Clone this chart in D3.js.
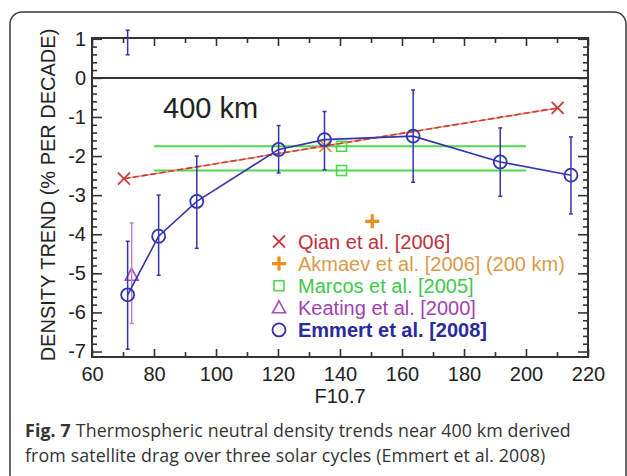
<!DOCTYPE html>
<html>
<head>
<meta charset="utf-8">
<script src="https://cdn.jsdelivr.net/npm/d3@7"></script>
<style>
  body { margin: 0; background: #fff; }
  svg text { font-family: "Liberation Sans", Arial, sans-serif; }
</style>
</head>
<body>
<div id="chart"></div>
<script>
// Emmert et al. [2008] - density trend vs F10.7 with error bars
const emmertF = [71.5, 81.5, 93.8, 120.2, 135, 163.6, 191.7, 214.5];
const emmertTrend = [-5.55, -4.05, -3.16, -1.83, -1.58, -1.49, -2.15, -2.49];
const emmertHigh = [-4.18, -3.0, -2.0, -1.22, -0.86, -0.31, -1.28, -1.51];
const emmertLow = [-6.94, -5.05, -4.36, -2.43, -2.35, -2.67, -3.03, -3.48];

// stray error bar above the first point (clipped at the top of the box)
const strayF = [71.5];
const strayHigh = [1.22];
const strayLow = [0.59];

// Qian et al. [2006]
const qianF = [70.3, 135.3, 210.2];
const qianTrend = [-2.58, -1.74, -0.77];

// Akmaev et al. [2006] (200 km)
const akmaevF = [150.4];
const akmaevTrend = [-3.67];

// Marcos et al. [2005]: squares plus the F10.7 range they cover
const marcosF = [140.5, 140.5];
const marcosTrend = [-1.75, -2.37];
const marcosRange = [80, 200];

// Keating et al. [2000]
const keatingF = [72.8];
const keatingTrend = [-5.05];
const keatingHigh = [-3.71];
const keatingLow = [-6.28];

// axis ticks
const xTicks = [60, 80, 100, 120, 140, 160, 180, 200, 220];
const xMinor = [70, 90, 110, 130, 150, 170, 190, 210];
const yTicks = [-7, -6, -5, -4, -3, -2, -1, 0, 1];

const legendLabels = ["Qian et al. [2006]", "Akmaev et al. [2006] (200 km)", "Marcos et al. [2005]", "Keating et al. [2000]", "Emmert et al. [2008]"];

const colors = {
  qian: "#cc3a3f", qianText: "#c2303a",
  akmaev: "#ee8c1c", akmaevText: "#dc9a4c",
  marcos: "#4fd84f", marcosText: "#3fc84c",
  keating: "#b04cbc", keatingText: "#a23faf",
  emmert: "#3434ac", emmertText: "#2a2aa0"
};

const W = 627, H = 476;
const box = { left: 92, right: 588, top: 38, bottom: 357 };

const svg = d3.select("#chart")
  .append("svg")
  .attr("width", W)
  .attr("height", H);

// outer rounded frame (runs off the bottom of the picture)
svg.append("rect")
  .attr("x", 10).attr("y", 12)
  .attr("width", 616).attr("height", 490)
  .attr("rx", 12)
  .attr("fill", "none")
  .attr("stroke", "#3a3a3a")
  .attr("stroke-width", 1.5);

const x = d3.scaleLinear().domain([60, 220]).range([box.left, box.right]);
const y = d3.scaleLinear().domain([-7.14, 1.02]).range([box.bottom, box.top]);

const yMinor = d3.range(-7, 1.001, 0.2).map(v => +v.toFixed(1)).filter(v => !Number.isInteger(v));

const axisColor = "#333";
const plainNum = d => String(d); // hyphen minus, like the original

function styleAxis(g) {
  g.select(".domain").remove();
  g.selectAll("line").attr("stroke", axisColor).attr("stroke-width", 1.6);
  g.selectAll("text")
    .attr("fill", "#222")
    .style("font-size", "20px");
}

// bottom axis
svg.append("g")
  .attr("transform", `translate(0,${box.bottom})`)
  .call(d3.axisBottom(x).tickValues(xTicks).tickSize(-8).tickPadding(10).tickFormat(plainNum))
  .call(styleAxis);
svg.append("g")
  .attr("transform", `translate(0,${box.bottom})`)
  .call(d3.axisBottom(x).tickValues(xMinor).tickSize(-5).tickFormat(""))
  .call(styleAxis);

// top axis (mirror)
svg.append("g")
  .attr("transform", `translate(0,${box.top})`)
  .call(d3.axisTop(x).tickValues(xTicks).tickSize(-8).tickFormat(""))
  .call(styleAxis);
svg.append("g")
  .attr("transform", `translate(0,${box.top})`)
  .call(d3.axisTop(x).tickValues(xMinor).tickSize(-5).tickFormat(""))
  .call(styleAxis);

// left axis
svg.append("g")
  .attr("transform", `translate(${box.left},0)`)
  .call(d3.axisLeft(y).tickValues(yTicks).tickSize(-10).tickPadding(6).tickFormat(plainNum))
  .call(styleAxis);
svg.append("g")
  .attr("transform", `translate(${box.left},0)`)
  .call(d3.axisLeft(y).tickValues(yMinor).tickSize(-5).tickFormat(""))
  .call(styleAxis);

// right axis (mirror)
svg.append("g")
  .attr("transform", `translate(${box.right},0)`)
  .call(d3.axisRight(y).tickValues(yTicks).tickSize(-10).tickFormat(""))
  .call(styleAxis);
svg.append("g")
  .attr("transform", `translate(${box.right},0)`)
  .call(d3.axisRight(y).tickValues(yMinor).tickSize(-5).tickFormat(""))
  .call(styleAxis);

// plot box
svg.append("rect")
  .attr("x", box.left).attr("y", box.top)
  .attr("width", box.right - box.left).attr("height", box.bottom - box.top)
  .attr("fill", "none")
  .attr("stroke", axisColor)
  .attr("stroke-width", 2);

// zero line
svg.append("line")
  .attr("x1", x(60)).attr("x2", x(220))
  .attr("y1", y(0)).attr("y2", y(0))
  .attr("stroke", axisColor)
  .attr("stroke-width", 2);

// axis labels
svg.append("text")
  .attr("x", x(140)).attr("y", 403)
  .attr("text-anchor", "middle")
  .attr("fill", "#222")
  .style("font-size", "20px")
  .text("F10.7");

svg.append("text")
  .attr("transform", `translate(55,195) rotate(-90)`)
  .attr("text-anchor", "middle")
  .attr("fill", "#222")
  .style("font-size", "20px")
  .text("DENSITY TREND (% PER DECADE)");

svg.append("text")
  .attr("x", 163).attr("y", 118)
  .attr("fill", "#222")
  .style("font-size", "29px")
  .text("400 km");

// helper for vertical error bars
function errorBars(fs, hi, lo, color, width) {
  const g = svg.append("g").attr("stroke", color).attr("stroke-width", width);
  fs.forEach((f, i) => {
    g.append("line").attr("x1", x(f)).attr("x2", x(f)).attr("y1", y(hi[i])).attr("y2", y(lo[i]));
    g.append("line").attr("x1", x(f) - 2).attr("x2", x(f) + 2).attr("y1", y(hi[i])).attr("y2", y(hi[i]));
    g.append("line").attr("x1", x(f) - 2).attr("x2", x(f) + 2).attr("y1", y(lo[i])).attr("y2", y(lo[i]));
  });
}

// Marcos range lines
marcosTrend.forEach(t => {
  svg.append("line")
    .attr("x1", x(marcosRange[0])).attr("x2", x(marcosRange[1]))
    .attr("y1", y(t)).attr("y2", y(t))
    .attr("stroke", colors.marcos)
    .attr("stroke-width", 2);
});

// Qian fit line
const qianData = qianF.map((f, i) => ({ f: f, t: qianTrend[i] }));
svg.append("path")
  .datum(qianData)
  .attr("fill", "none")
  .attr("stroke", "#e89a6a")
  .attr("stroke-width", 1.6)
  .attr("d", d3.line().x(d => x(d.f)).y(d => y(d.t)));
svg.append("path")
  .datum(qianData)
  .attr("fill", "none")
  .attr("stroke", colors.qian)
  .attr("stroke-width", 1.6)
  .attr("stroke-dasharray", "6,3")
  .attr("d", d3.line().x(d => x(d.f)).y(d => y(d.t)));

// marker shapes
function drawMarker(g, type, cx, cy, color) {
  if (type === "x") {
    g.append("path").attr("d", `M${cx - 6},${cy - 6}L${cx + 6},${cy + 6}M${cx - 6},${cy + 6}L${cx + 6},${cy - 6}`)
      .attr("stroke", color).attr("stroke-width", 1.8).attr("fill", "none");
  } else if (type === "plus") {
    g.append("path").attr("d", `M${cx - 7},${cy}L${cx + 7},${cy}M${cx},${cy - 7}L${cx},${cy + 7}`)
      .attr("stroke", color).attr("stroke-width", 3.2).attr("fill", "none");
  } else if (type === "square") {
    g.append("rect").attr("x", cx - 5).attr("y", cy - 5).attr("width", 10).attr("height", 10)
      .attr("stroke", color).attr("stroke-width", 1.6).attr("fill", "none");
  } else if (type === "triangle") {
    g.append("path").attr("d", `M${cx},${cy - 7}L${cx + 6.5},${cy + 5}L${cx - 6.5},${cy + 5}Z`)
      .attr("stroke", color).attr("stroke-width", 1.6).attr("fill", "none");
  } else if (type === "circle") {
    g.append("circle").attr("cx", cx).attr("cy", cy).attr("r", 6.5)
      .attr("stroke", color).attr("stroke-width", 1.8).attr("fill", "none");
  }
}

const marks = svg.append("g");

qianF.forEach((f, i) => drawMarker(marks, "x", x(f), y(qianTrend[i]), i === 1 ? colors.akmaev : colors.qian));
akmaevF.forEach((f, i) => drawMarker(marks, "plus", x(f), y(akmaevTrend[i]), colors.akmaev));
marcosF.forEach((f, i) => drawMarker(marks, "square", x(f), y(marcosTrend[i]), colors.marcos));

// Keating
errorBars(keatingF, keatingHigh, keatingLow, "#c07ac8", 1.4);
keatingF.forEach((f, i) => drawMarker(marks, "triangle", x(f), y(keatingTrend[i]), colors.keating));

// Emmert line, error bars and circles
const emmertData = emmertF.map((f, i) => ({ f: f, t: emmertTrend[i] }));
svg.append("path")
  .datum(emmertData)
  .attr("fill", "none")
  .attr("stroke", colors.emmert)
  .attr("stroke-width", 1.6)
  .attr("d", d3.line().x(d => x(d.f)).y(d => y(d.t)));
errorBars(emmertF, emmertHigh, emmertLow, colors.emmert, 1.5);
errorBars(strayF, strayHigh, strayLow, colors.emmert, 1.5);
const emmertMarks = svg.append("g");
emmertData.forEach(d => drawMarker(emmertMarks, "circle", x(d.f), y(d.t), colors.emmert));

// legend
const legendTypes = ["x", "plus", "square", "triangle", "circle"];
const legendMarkColors = [colors.qian, colors.akmaev, colors.marcos, colors.keating, colors.emmert];
const legendTextColors = [colors.qianText, colors.akmaevText, colors.marcosText, colors.keatingText, colors.emmertText];
const legend = svg.append("g");
legendLabels.forEach((label, i) => {
  const cy = 241.5 + i * 22.1;
  drawMarker(legend, legendTypes[i], 279, cy, legendMarkColors[i]);
  legend.append("text")
    .attr("x", 298).attr("y", cy + 7)
    .attr("fill", legendTextColors[i])
    .style("font-size", "20px")
    .style("font-weight", i === 4 ? "bold" : "normal")
    .text(label);
});

// caption: bold figure number, then the rest of the first line placed after it
const caption = svg.append("g")
  .attr("fill", "#333")
  .style("font-size", "17.8px")
  .style("letter-spacing", "0.12px");
const figNo = caption.append("text")
  .attr("x", 25).attr("y", 437)
  .style("font-family", "'Open Sans', sans-serif")
  .style("font-weight", "bold")
  .text("Fig. 7");
const figW = figNo.node().getComputedTextLength();
caption.append("text")
  .attr("x", 25 + figW + 5).attr("y", 437)
  .style("font-family", "'Open Sans', sans-serif")
  .text("Thermospheric neutral density trends near 400 km derived");
caption.append("text")
  .attr("x", 25).attr("y", 462)
  .style("font-family", "'Open Sans', sans-serif")
  .text("from satellite drag over three solar cycles (Emmert et al. 2008)");
</script>
</body>
</html>
